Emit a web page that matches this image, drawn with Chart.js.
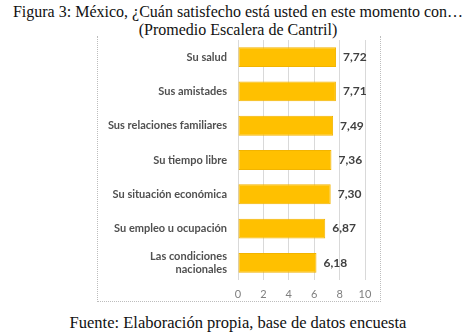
<!DOCTYPE html>
<html>
<head>
<meta charset="utf-8">
<script src="https://cdn.jsdelivr.net/npm/chart.js@4.4.0/dist/chart.umd.min.js"></script>
<style>
  body { margin: 0; background: #fff; width: 476px; height: 336px; position: relative; overflow: hidden; }
  .caption { position: absolute; left: 0; width: 476px; text-align: center; font-family: "Liberation Serif", serif; font-size: 16px; color: #111; white-space: nowrap; line-height: 18px; }
  #frame { position: absolute; left: 97px; top: 36px; width: 282px; height: 265px; border-left: 1px dotted #bdbdbd; border-right: 1px dotted #bdbdbd; border-bottom: 1px dotted #bdbdbd; }
  #frame canvas { display: block; }
</style>
</head>
<body>
<div class="caption" style="top:3px">Figura 3: México, ¿Cuán satisfecho está usted en este momento con…</div>
<div class="caption" style="top:21px">(Promedio Escalera de Cantril)</div>
<div id="frame"><canvas id="satisChart" width="282" height="265"></canvas></div>
<div class="caption" style="top:314px; font-size:16.5px">Fuente: Elaboración propia, base de datos encuesta</div>
<script>
const categories = [
  "Su salud",
  "Sus amistades",
  "Sus relaciones familiares",
  "Su tiempo libre",
  "Su situación económica",
  "Su empleo u ocupación",
  ["Las condiciones", "nacionales"],
];
const promedio = [7.72, 7.71, 7.49, 7.36, 7.30, 6.87, 6.18];
const xTicks = [0, 2, 4, 6, 8, 10];

// etiquetas de valor al final de cada barra
const valueLabels = {
  id: "valueLabels",
  afterDatasetsDraw(chart) {
    const { ctx } = chart;
    const meta = chart.getDatasetMeta(0);
    ctx.save();
    ctx.font = "bold 12px Lato, sans-serif";
    ctx.fillStyle = "#404040";
    ctx.textAlign = "left";
    ctx.textBaseline = "middle";
    meta.data.forEach((bar, i) => {
      const txt = promedio[i].toFixed(2).replace(".", ",");
      ctx.fillText(txt, bar.x + 7, bar.y);
    });
    ctx.restore();
  },
};

const ctx = document.getElementById("satisChart");
new Chart(ctx, {
  type: "bar",
  data: {
    labels: categories,
    datasets: [
      {
        data: promedio,
        backgroundColor: "#FFC000",
        borderColor: "#F2B400",
        borderWidth: 1,
        borderSkipped: false,
        categoryPercentage: 1,
        barPercentage: 0.58,
      },
    ],
  },
  options: {
    indexAxis: "y",
    responsive: false,
    animation: false,
    layout: { padding: { left: 0, right: 15, top: 4, bottom: 0 } },
    plugins: {
      legend: { display: false },
      tooltip: { enabled: false },
    },
    scales: {
      x: {
        min: 0,
        max: 10,
        afterBuildTicks: (scale) => {
          scale.ticks = xTicks.map((v) => ({ value: v }));
        },
        afterFit: (scale) => {
          scale.height = 21;
        },
        grid: { color: "#d9d9d9", drawTicks: false },
        border: { display: false },
        ticks: {
          padding: 8,
          color: "#7f7f7f",
          font: { family: "Lato", size: 11 },
        },
      },
      y: {
        afterFit: (scale) => {
          scale.width = 140;
          scale.paddingTop = 0;
          scale.paddingBottom = 0;
        },
        grid: { display: false, drawTicks: false },
        border: { display: false },
        ticks: {
          padding: 11,
          color: "#505050",
          font: { family: "Lato", size: 11, weight: "bold", lineHeight: 1.2 },
        },
      },
    },
  },
  plugins: [valueLabels],
});
</script>
</body>
</html>
